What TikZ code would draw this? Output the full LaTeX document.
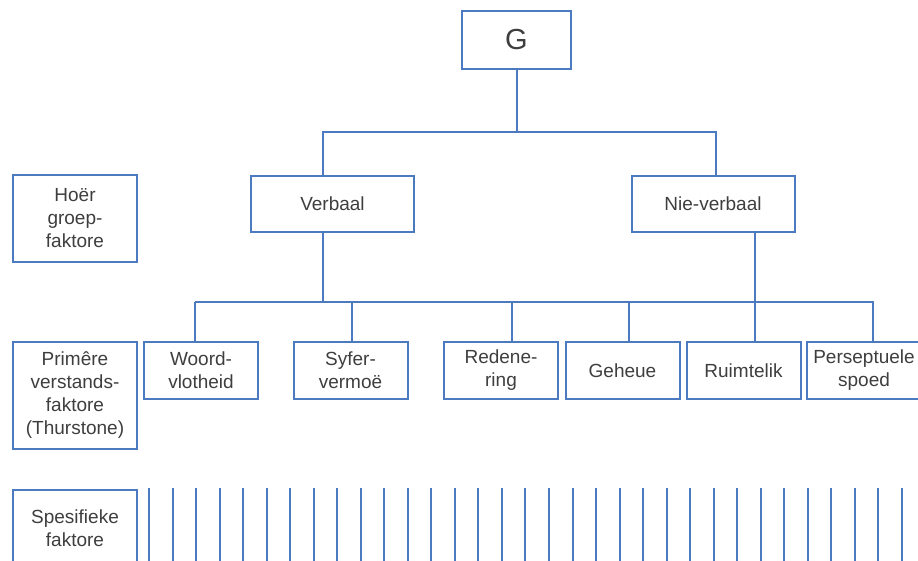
\documentclass[tikz,border=0pt]{standalone}
\usepackage{fontspec}
\setmainfont{Liberation Sans}
\usepackage{tikz}
\definecolor{lineblue}{RGB}{76,122,192}
\definecolor{textgray}{RGB}{62,62,62}

\begin{document}
\begin{tikzpicture}[x=1pt,y=1pt]
	\tikzset{every node/.style={draw=lineblue,line width=2pt,text=textgray,align=center,inner sep=0pt,font=\fontsize{19}{23}\selectfont}}
	\tikzset{factor/.style={minimum width=114pt,minimum height=57pt}}
	\tikzset{group/.style={minimum width=163pt,minimum height=56pt}}
	\tikzset{levelbox/.style={minimum width=124pt}}
	\tikzset{link/.style={draw=lineblue,line width=2pt}}
	\useasboundingbox (0,0) rectangle (918,-561);
	\clip (0,0) rectangle (918,-561);
	\node[minimum width=109pt,minimum height=58pt,font=\fontsize{29}{34}\selectfont] (G) at (516.5,-40) {G};
	\node[group] (verb) at (332.5,-204) {Verbaal};
	\node[group] (nverb) at (713,-204) {Nie-verbaal};
	\node[levelbox,minimum height=87pt] (hoer) at (75,-218.5) {Hoër\\groep-\\faktore};
	\node[levelbox,minimum height=107pt] (prim) at (75,-395.5) {Primêre\\verstands-\\faktore\\(Thurstone)};
	\node[levelbox,minimum height=76pt] (spes) at (75,-528) {Spesifieke\\faktore};
	\node[factor] (woord) at (201,-370.5) {Woord-\\vlotheid};
	\node[factor] (syfer) at (350.5,-370.5) {Syfer-\\vermoë};
	\node[factor] (reden) at (501,-370.5) {Redene-\\ring};
	\node[factor] (geheue) at (622.5,-370.5) {Geheue};
	\node[factor] (ruimte) at (743.5,-370.5) {Ruimtelik};
	\node[factor] (persp) at (864,-370.5) {Perseptuele\\spoed};
	\path (G.south) ++(0,-62) coordinate (gbar);
	\path ([xshift=-6pt]woord.north) ++(0,39) coordinate (lbar);
	\draw[link] (G.south) -- (gbar);
	\draw[link] ([xshift=-9.5pt]verb.north) |- (gbar) -| ([xshift=3pt]nverb.north);
	\draw[link] ([xshift=-9.5pt]verb.south) |- (lbar);
	\draw[link] ([xshift=42pt]nverb.south) -- ([xshift=11.5pt]ruimte.north);
	\foreach \n/\dx in {woord/-6,syfer/1.5,reden/11,geheue/6.5,persp/9}
		\draw[link] ([xshift=\dx pt]\n.north) |- (lbar);
	\foreach \i in {0,...,32}
		\draw[link] (149+23.53*\i,-488) -- ++(0,-80);
\end{tikzpicture}
\end{document}
